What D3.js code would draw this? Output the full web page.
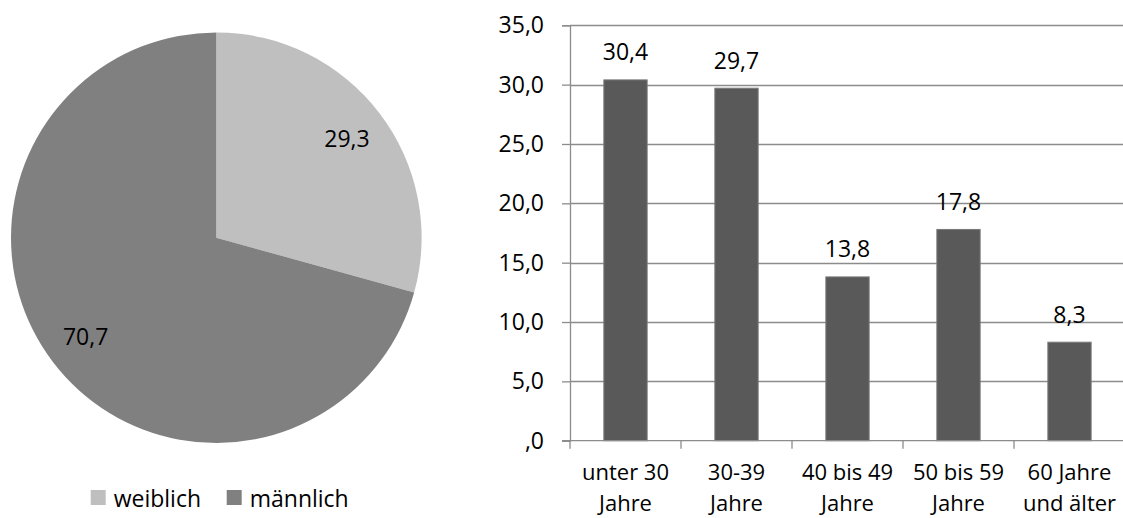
<!DOCTYPE html>
<html>
<head>
<meta charset="utf-8">
<script src="https://cdn.jsdelivr.net/npm/d3@7"></script>
<style>
  html, body { margin: 0; padding: 0; background: #fff; }
  svg { display: block; font-family: "Open Sans", "Noto Sans", sans-serif; }
</style>
</head>
<body>
<svg id="chart" width="1123" height="518"></svg>
<script>
// Geschlecht (Anteil in %)
const genderLabels = ["weiblich", "männlich"];
const genderValues = [29.3, 70.7];
const genderColors = ["#bfbfbf", "#808080"];

// Altersgruppen (Anteil in %)
const ageCategories = ["unter 30\nJahre", "30-39\nJahre", "40 bis 49\nJahre", "50 bis 59\nJahre", "60 Jahre\nund älter"];
const ageValues = [30.4, 29.7, 13.8, 17.8, 8.3];
const yTicks = [0, 5, 10, 15, 20, 25, 30, 35];

const fmt = v => v === 0 ? ",0" : v.toFixed(1).replace(".", ",");

const svg = d3.select("#chart");
const FS = 23;
const FS_CAT = 22;

// ---------- Kreisdiagramm ----------
const cx = 216.3, cy = 237.7, R = 205.3;
const pieG = svg.append("g").attr("transform", `translate(${cx},${cy})`);
const pie = d3.pie().sort(null).value(d => d)(genderValues);
const arc = d3.arc().innerRadius(0).outerRadius(R);
const labelArc = d3.arc().innerRadius(R * 0.8).outerRadius(R * 0.8);

pieG.selectAll("path.slice")
  .data(pie)
  .join("path")
  .attr("class", "slice")
  .attr("d", arc)
  .attr("fill", (d, i) => genderColors[i]);

pieG.selectAll("text.plabel")
  .data(pie)
  .join("text")
  .attr("class", "plabel")
  .attr("transform", d => `translate(${labelArc.centroid(d)})`)
  .attr("text-anchor", "middle")
  .attr("dy", "0.36em")
  .attr("font-size", FS)
  .attr("fill", "#000")
  .text(d => fmt(d.value));

// Legende
const legend = svg.append("g");
const legX = [90.7, 226.7];
genderLabels.forEach((name, i) => {
  const g = legend.append("g").attr("transform", `translate(${legX[i]},0)`);
  g.append("rect").attr("x", 0).attr("y", 490).attr("width", 15).attr("height", 15)
    .attr("fill", genderColors[i]);
  g.append("text").attr("x", 23).attr("y", 507).attr("font-size", FS).attr("fill", "#000")
    .text(name);
});

// ---------- Säulendiagramm ----------
const x0 = 570, x1 = 1125, yTop = 25.3, yZero = 440.7;
const x = d3.scaleBand().domain(ageCategories).range([x0, x1])
  .paddingInner(0.61).paddingOuter(0.305);
const y = d3.scaleLinear().domain([0, 35]).range([yZero, yTop]);

// Gitternetzlinien
svg.append("g")
  .selectAll("line")
  .data(yTicks.filter(t => t > 0))
  .join("line")
  .attr("x1", x0).attr("x2", 1123)
  .attr("y1", d => Math.round(y(d)) + 0.5).attr("y2", d => Math.round(y(d)) + 0.5)
  .attr("stroke", "#8c8c8c").attr("stroke-width", 1.3);

// Y-Achse
const yAxis = svg.append("g")
  .attr("transform", `translate(${x0},0)`)
  .call(d3.axisLeft(y).tickValues(yTicks).tickSize(8).tickPadding(18).tickFormat(fmt));
yAxis.select(".domain").attr("stroke", "#8c8c8c").attr("stroke-width", 1.3);
yAxis.selectAll(".tick line").attr("stroke", "#8c8c8c").attr("stroke-width", 1.3);
yAxis.selectAll(".tick text").attr("font-size", FS).attr("fill", "#000")
  .attr("font-family", "\"Open Sans\", sans-serif");

// Säulen
svg.append("g")
  .selectAll("rect")
  .data(ageValues)
  .join("rect")
  .attr("x", (d, i) => x(ageCategories[i]))
  .attr("y", d => y(d))
  .attr("width", x.bandwidth())
  .attr("height", d => yZero - y(d))
  .attr("fill", "#595959")
  .attr("stroke", "#7a7a7a")
  .attr("stroke-width", 1);

// Wertbeschriftungen
svg.append("g")
  .selectAll("text")
  .data(ageValues)
  .join("text")
  .attr("x", (d, i) => x(ageCategories[i]) + x.bandwidth() / 2)
  .attr("y", d => y(d) - 19.5)
  .attr("text-anchor", "middle")
  .attr("font-size", FS)
  .attr("fill", "#000")
  .text(d => fmt(d));

// X-Achse
const xAxisG = svg.append("g");
xAxisG.append("line")
  .attr("x1", x0 - 8).attr("x2", 1123)
  .attr("y1", yZero).attr("y2", yZero)
  .attr("stroke", "#8c8c8c").attr("stroke-width", 1.3);
const step = x.step();
xAxisG.selectAll("line.xt")
  .data(d3.range(ageCategories.length))
  .join("line")
  .attr("class", "xt")
  .attr("x1", i => x0 + i * step).attr("x2", i => x0 + i * step)
  .attr("y1", yZero).attr("y2", yZero + 8)
  .attr("stroke", "#8c8c8c").attr("stroke-width", 1.3);

// Kategorienbeschriftung, zweizeilig
const lineY = [480, 511];
ageCategories.forEach(cat => {
  const cxm = x(cat) + x.bandwidth() / 2;
  cat.split("\n").forEach((line, k) => {
    xAxisG.append("text")
      .attr("class", "cat")
      .attr("x", cxm)
      .attr("y", lineY[k])
      .attr("text-anchor", "middle")
      .attr("font-size", FS_CAT)
      .attr("fill", "#000")
      .text(line);
  });
});
</script>
</body>
</html>
